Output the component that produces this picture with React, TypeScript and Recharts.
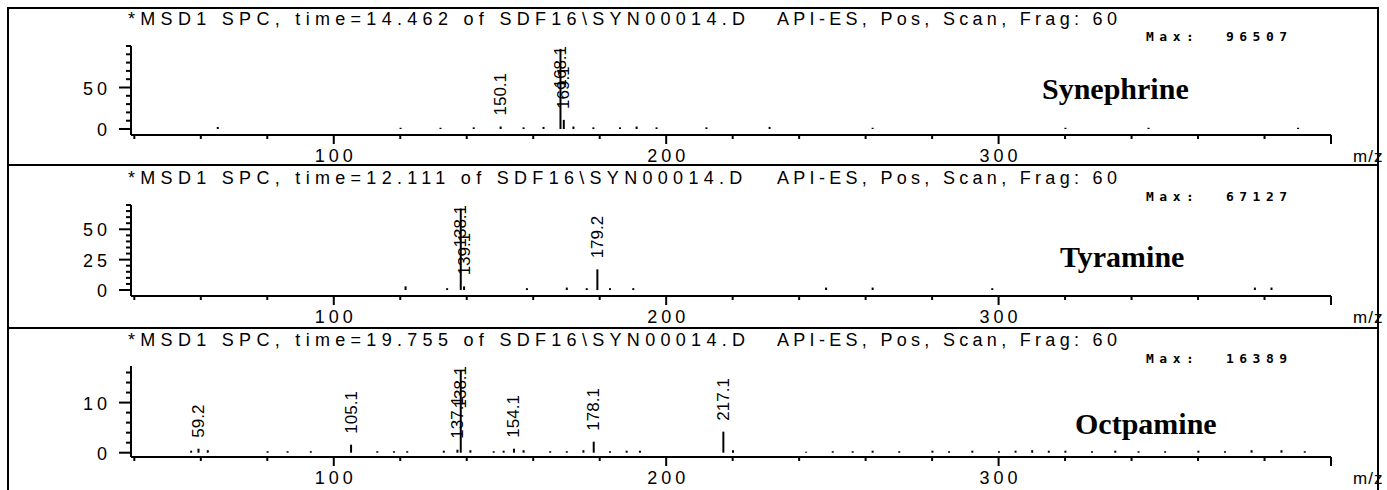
import { Bar, BarChart, LabelList, XAxis, YAxis } from "recharts";

// m/z axis (shared by all three spectra)
const MZ_TICKS = [40, 60, 80, 100, 120, 140, 160, 180, 200, 220, 240, 260, 280, 300, 320, 340, 360, 380, 400];
const MZ_LABELLED = [100, 200, 300];

// [m/z, abundance (x1000), label]
type Peak = [number, number, string?];

const SYNEPHRINE_PEAKS: Peak[] = [
  [150.1, 3, "150.1"],
  [168.1, 96.5, "168.1"],
  [169.1, 11, "169.1"],
];
const SYNEPHRINE_NOISE: Peak[] = [
  [65, 2.5], [120, 1.5], [132, 1.5], [142, 2], [157, 2], [163, 2.5], [172, 3], [178, 2],
  [186, 2], [191, 3], [197, 2], [212, 2], [231, 2.5], [262, 1.5], [320, 1.5], [345, 1.5], [390, 1.5],
];
const SYNEPHRINE_Y_TICKS = [0, 10, 20, 30, 40, 50, 60, 70, 80, 90, 100];
const SYNEPHRINE_Y_LABELS = [0, 50];

const TYRAMINE_PEAKS: Peak[] = [
  [138.1, 67.1, "138.1"],
  [139.1, 3, "139.1"],
  [179.2, 17, "179.2"],
];
const TYRAMINE_NOISE: Peak[] = [
  [121.5, 3], [134, 1.5], [158, 1.5], [170, 2], [176, 1.5], [183, 1.5], [190, 1.5],
  [248, 2], [262, 2], [298, 1.5], [377, 2], [382, 2],
];
const TYRAMINE_Y_TICKS = [0, 5, 10, 15, 20, 25, 30, 35, 40, 45, 50, 55, 60, 65, 70];
const TYRAMINE_Y_LABELS = [0, 25, 50];

const OCTOPAMINE_PEAKS: Peak[] = [
  [59.2, 0.8, "59.2"],
  [105.1, 1.6, "105.1"],
  [137.1, 0.6, "137.1"],
  [138.1, 16.4, "138.1"],
  [154.1, 0.8, "154.1"],
  [178.1, 2.2, "178.1"],
  [217.1, 4.2, "217.1"],
];
const OCTOPAMINE_NOISE: Peak[] = [
  [57, 0.4], [62, 0.5], [80, 0.3], [86, 0.3], [93, 0.3], [113, 0.3], [118, 0.3], [122, 0.3],
  [133, 0.4], [141, 0.5], [148, 0.3], [151, 0.4], [157, 0.5], [165, 0.3], [170, 0.3], [175, 0.5],
  [183, 0.3], [188, 0.4], [192, 0.4], [220, 0.5], [242, 0.2], [250, 0.3], [256, 0.3], [262, 0.4],
  [270, 0.3], [280, 0.4], [285, 0.3], [292, 0.4], [300, 0.3], [305, 0.4], [310, 0.5], [315, 0.4],
  [320, 0.4], [328, 0.3], [335, 0.4], [342, 0.3], [350, 0.3], [360, 0.4], [368, 0.3], [376, 0.5],
  [385, 0.5], [392, 0.3],
];
const OCTOPAMINE_Y_TICKS = [0, 2, 4, 6, 8, 10, 12, 14, 16];
const OCTOPAMINE_Y_LABELS = [0, 10];

const FILE = "of SDF16\\SYN00014.D";
const METHOD = "API-ES, Pos, Scan, Frag: 60";

const spectra = [
  { name: "Synephrine", time: "14.462", max: "96507", peaks: SYNEPHRINE_PEAKS, noise: SYNEPHRINE_NOISE, yTicks: SYNEPHRINE_Y_TICKS, yLabels: SYNEPHRINE_Y_LABELS, yMax: 100 },
  { name: "Tyramine", time: "12.111", max: "67127", peaks: TYRAMINE_PEAKS, noise: TYRAMINE_NOISE, yTicks: TYRAMINE_Y_TICKS, yLabels: TYRAMINE_Y_LABELS, yMax: 70 },
  { name: "Octpamine", time: "19.755", max: "16389", peaks: OCTOPAMINE_PEAKS, noise: OCTOPAMINE_NOISE, yTicks: OCTOPAMINE_Y_TICKS, yLabels: OCTOPAMINE_Y_LABELS, yMax: 17.3 },
];

// page layout of each panel (pixels, relative to the panel top)
const frames = [
  { top: 0, plotTop: 46, plotBottom: 135, zeroY: 129, headerY: 19, maxY: 37, nameY: 90, nameX: 1042 },
  { top: 163, plotTop: 42, plotBottom: 133, zeroY: 127, headerY: 15, maxY: 34, nameY: 95, nameX: 1060 },
  { top: 326, plotTop: 40, plotBottom: 131, zeroY: 126.7, headerY: 14, maxY: 33, nameY: 99, nameX: 1075 },
];

const W = 1387;
const CHART_H = 172;
const TEXT_FONT = "'Liberation Sans', Arial, sans-serif";

function MzTick(props: any) {
  const { x, y, payload } = props;
  const v = payload.value;
  const major = v % 100 === 0;
  return (
    <g>
      <line x1={x} y1={y} x2={x} y2={y + (major ? 9 : 4)} stroke="#000" strokeWidth={2} />
      {MZ_LABELLED.includes(v) && (
        <text x={x + 2} y={y + 27} textAnchor="middle" fontSize={18} fontFamily={TEXT_FONT} letterSpacing={4} fill="#000">
          {v}
        </text>
      )}
    </g>
  );
}

function makeYTick(labels: number[]) {
  return (props: any) => {
    const { x, y, payload } = props;
    const major = labels.includes(payload.value);
    return (
      <g>
        <line x1={x - (major ? 12 : 5)} y1={y} x2={x} y2={y} stroke="#000" strokeWidth={2} />
        {major && (
          <text x={x - 20} y={y + 7} textAnchor="end" fontSize={18} fontFamily={TEXT_FONT} letterSpacing={4} fill="#000">
            {payload.value}
          </text>
        )}
      </g>
    );
  };
}

function makePeakLabel(plotTop: number) {
  return (props: any) => {
    const vb = props.viewBox ?? props;
    const value = props.value;
    if (!value) return null;
    const cx = Number(vb.x) + Number(vb.width) / 2;
    const len = String(value).length * 8.5;
    let bottom = Number(vb.y) - 11;
    if (bottom - len < plotTop) bottom = plotTop + len;
    return (
      <text
        x={cx}
        y={bottom}
        transform={`rotate(-90 ${cx} ${bottom})`}
        textAnchor="start"
        dominantBaseline="central"
        fontSize={17}
        fontFamily={TEXT_FONT}
        fill="#000"
      >
        {value}
      </text>
    );
  };
}

function Spectrum({ spec, frame }: { spec: (typeof spectra)[number]; frame: (typeof frames)[number] }) {
  const data = [...spec.noise, ...spec.peaks]
    .map(([mz, abundance, label]) => ({ mz, abundance, label }))
    .sort((a, b) => a.mz - b.mz);
  // the axis line sits a few pixels under the zero level, as in ChemStation plots
  const pxPerUnit = (frame.zeroY - frame.plotTop) / spec.yMax;
  const yMin = -(frame.plotBottom - frame.zeroY) / pxPerUnit;
  const headerStyle = {
    position: "absolute" as const,
    top: frame.headerY - 11,
    fontFamily: TEXT_FONT,
    fontSize: 18,
    lineHeight: "22px",
    letterSpacing: 5.3,
    whiteSpace: "pre" as const,
  };

  return (
    <div style={{ position: "absolute", left: 0, top: frame.top, width: W, height: CHART_H }}>
      <BarChart
        width={W}
        height={CHART_H}
        data={data}
        margin={{ top: frame.plotTop, right: 56, bottom: 0, left: 71 }}
      >
        <XAxis
          type="number"
          dataKey="mz"
          domain={[39, 400]}
          allowDataOverflow
          ticks={MZ_TICKS}
          interval={0}
          height={CHART_H - frame.plotBottom}
          tickSize={0}
          tickMargin={0}
          tickLine={false}
          axisLine={{ stroke: "#000", strokeWidth: 2 }}
          tick={(p: any) => <MzTick {...p} />}
        />
        <YAxis
          type="number"
          domain={[yMin, spec.yMax]}
          allowDataOverflow
          ticks={spec.yTicks}
          interval={0}
          width={60}
          tickSize={0}
          tickMargin={0}
          tickLine={false}
          axisLine={{ stroke: "#000", strokeWidth: 2 }}
          tick={makeYTick(spec.yLabels)}
        />
        <Bar dataKey="abundance" fill="#000" barSize={2} isAnimationActive={false}>
          <LabelList dataKey="label" content={makePeakLabel(frame.plotTop)} />
        </Bar>
      </BarChart>

      <span style={{ ...headerStyle, left: 128 }}>{`*MSD1 SPC, time=${spec.time} ${FILE}`}</span>
      <span style={{ ...headerStyle, left: 777, letterSpacing: 4.3 }}>{METHOD}</span>
      <span
        style={{
          position: "absolute",
          left: 1146,
          top: frame.maxY - 8,
          lineHeight: "16px",
          fontFamily: "'DejaVu Sans Mono', monospace",
          fontWeight: 700,
          fontSize: 13,
          letterSpacing: 5.5,
          whiteSpace: "pre",
        }}
      >
        {`Max:  ${spec.max}`}
      </span>
      <span
        style={{
          position: "absolute",
          left: frame.nameX,
          top: frame.nameY - 18,
          lineHeight: "34px",
          fontFamily: "'Liberation Serif', 'Times New Roman', serif",
          fontWeight: 700,
          fontSize: 30,
        }}
      >
        {spec.name}
      </span>
      <span style={{ position: "absolute", left: 1353, top: frame.plotBottom + 12, fontFamily: TEXT_FONT, fontSize: 17, letterSpacing: 1 }}>
        m/z
      </span>
    </div>
  );
}

export default function App() {
  return (
    <div style={{ position: "absolute", left: 0, top: 0, width: W, height: 490, background: "#fff", overflow: "hidden" }}>
      {spectra.map((spec, i) => (
        <Spectrum key={spec.name} spec={spec} frame={frames[i]} />
      ))}
      {/* panel frame */}
      <div style={{ position: "absolute", left: 7, top: 7, width: 2, height: 483, background: "#000" }} />
      <div style={{ position: "absolute", left: 1377, top: 7, width: 2, height: 483, background: "#000" }} />
      <div style={{ position: "absolute", left: 7, top: 7, width: 1372, height: 2, background: "#000" }} />
      <div style={{ position: "absolute", left: 7, top: 164, width: 1372, height: 2, background: "#000" }} />
      <div style={{ position: "absolute", left: 7, top: 327, width: 1372, height: 2, background: "#000" }} />
    </div>
  );
}
